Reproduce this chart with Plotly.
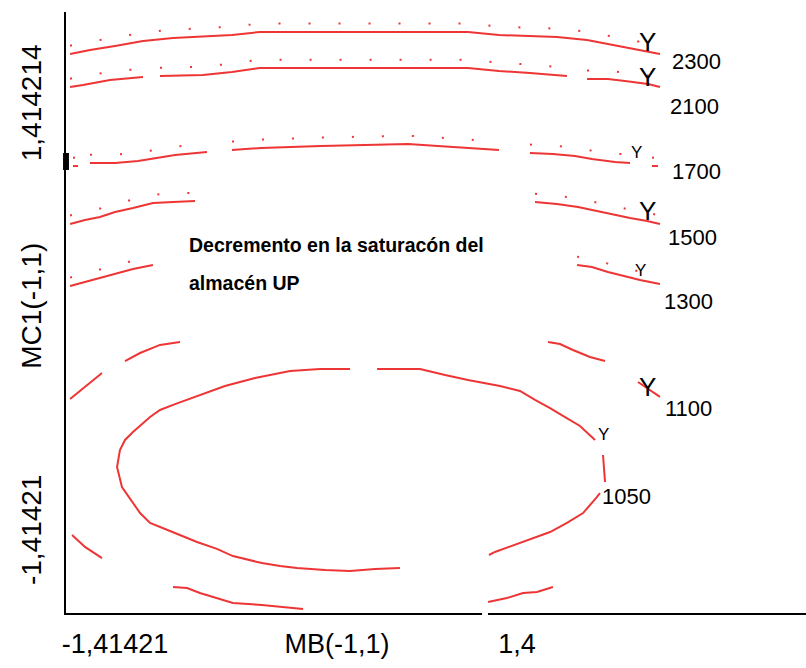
import plotly.graph_objects as go

# ---- contour lines (coded units, gaps marked with None) ----
c2300_x = [-1.739, -1.609, -1.446, -1.264, -1.068, -0.684, -0.502, 0.853, 1.055, 1.433, 1.629, 1.824, 1.974, 2.104]
c2300_y = [1.717, 1.743, 1.770, 1.803, 1.822, 1.842, 1.862, 1.862, 1.842, 1.829, 1.809, 1.770, 1.743, 1.717]

c2100_x = [-1.739, -1.655, -1.479, -1.264, None, -1.153, -0.873, -0.684, -0.502, 0.853, 1.055, 1.257, 1.498, None,
           1.629, 1.765, 1.876, 2.026, 2.104]
c2100_y = [1.500, 1.513, 1.546, 1.566, None, 1.572, 1.579, 1.599, 1.625, 1.625, 1.605, 1.592, 1.572, None,
           1.553, 1.553, 1.539, 1.520, 1.500]

c1700_x = [-1.720, -1.687, None, -1.609, -1.446, -1.296, -1.186, -1.055, -0.847, None,
           -0.684, -0.495, -0.104, 0.463, 0.658, 0.853, 1.055, None,
           1.257, 1.407, 1.550, 1.661, 1.811, 1.909, None, 2.052, 2.091]
c1700_y = [0.980, 0.980, None, 1.000, 1.000, 1.013, 1.033, 1.053, 1.072, None,
           1.086, 1.099, 1.112, 1.125, 1.112, 1.099, 1.086, None,
           1.066, 1.059, 1.046, 1.026, 1.007, 1.000, None, 0.980, 0.980]

c1500_x = [-1.739, -1.642, -1.544, -1.446, -1.329, -1.199, -1.068, -0.925, None,
           1.290, 1.433, 1.570, 1.694, 1.798, 1.909, 2.020, 2.104]
c1500_y = [0.599, 0.625, 0.645, 0.678, 0.704, 0.737, 0.743, 0.750, None,
           0.743, 0.730, 0.711, 0.684, 0.658, 0.638, 0.618, 0.599]

c1300_x = [-1.739, -1.642, -1.544, -1.446, -1.329, -1.199, None, 1.564, 1.661, 1.765, 1.863, 1.974, 2.104]
c1300_y = [0.191, 0.217, 0.243, 0.270, 0.303, 0.329, None, 0.329, 0.316, 0.283, 0.257, 0.230, 0.204]

c1100_x = [-1.739, -1.642, -1.531, None, -1.381, -1.283, -1.153, -1.023, None,
           1.375, 1.453, 1.537, 1.648, 1.746, None, 1.961, 2.104, None,
           -1.726, -1.642, -1.531, None,
           -1.068, -0.977, -0.893, -0.782, -0.678, -0.489, -0.306, -0.221, None,
           0.984, 1.107, 1.212, 1.303, 1.407]
c1100_y = [-0.553, -0.474, -0.382, None, -0.303, -0.250, -0.197, -0.178, None,
           -0.178, -0.191, -0.230, -0.276, -0.303, None, -0.441, -0.539, None,
           -1.447, -1.526, -1.599, None,
           -1.789, -1.796, -1.829, -1.862, -1.895, -1.908, -1.928, -1.934, None,
           -1.888, -1.862, -1.829, -1.822, -1.789]

c1050_x = [0.410, 0.248, 0.085, -0.078, -0.261, -0.371, -0.489, -0.678, -0.782, -0.912, -1.088, -1.218,
           -1.283, -1.329, -1.401, -1.433, -1.414, -1.381, -1.329, -1.218, -1.153, -1.055, -0.925, -0.730,
           -0.534, -0.306, -0.111, 0.085, None,
           0.261, 0.541, 0.704, 0.853, 1.062, 1.192, 1.290, 1.388, 1.472, 1.583, 1.681, None,
           1.733, 1.739, 1.746, None,
           1.713, 1.694, 1.603, 1.498, 1.388, 1.212, 1.107, 1.029, 0.990]
c1050_y = [-1.664, -1.671, -1.684, -1.678, -1.664, -1.651, -1.632, -1.586, -1.539, -1.493, -1.421, -1.368,
           -1.303, -1.237, -1.132, -1.000, -0.888, -0.822, -0.770, -0.671, -0.625, -0.586, -0.539, -0.467,
           -0.414, -0.368, -0.355, -0.355, None,
           -0.355, -0.355, -0.395, -0.428, -0.467, -0.500, -0.559, -0.612, -0.664, -0.730, -0.822, None,
           -0.921, -1.007, -1.099, None,
           -1.171, -1.197, -1.303, -1.368, -1.428, -1.493, -1.533, -1.559, -1.579]

# contour level labels
level_labels = ["2300", "2100", "1700", "1500", "1300", "1100", "1050"]
level_label_x = [2.345, 2.332, 2.345, 2.319, 2.287, 2.293, 1.889]
level_label_y = [1.671, 1.375, 0.941, 0.513, 0.086, -0.612, -1.197]

# "Y" markers near line ends
y_mark_x = [2.026, 2.026, 1.954, 2.026, 1.980, 2.026, 1.739]
y_mark_y = [1.796, 1.566, 1.066, 0.684, 0.296, -0.474, -0.783]
y_mark_big = [True, True, False, True, False, True, False]

# tick labels
x_tick_vals = [-1.446, 0.0, 1.173]
x_tick_text = ["-1,41421", "MB(-1,1)", "1,4"]
y_tick_vals = [1.368, 0.033, -1.441]
y_tick_text = ["1,414214", "MC1(-1,1)", "-1,41421"]

note_lines = ["Decremento en la saturacón del", "almacén UP"]

RED = "#ee3535"

fig = go.Figure()

levels = [
    (c2300_x, c2300_y, True),
    (c2100_x, c2100_y, True),
    (c1700_x, c1700_y, True),
    (c1500_x, c1500_y, True),
    (c1300_x, c1300_y, True),
    (c1100_x, c1100_y, False),
    (c1050_x, c1050_y, False),
]


def shifted(vals, d):
    return [None if v is None else v + d for v in vals]


for xs, ys, dotted in levels:
    fig.add_trace(go.Scatter(x=xs, y=ys, mode="lines", connectgaps=False,
                             line=dict(color=RED, width=2), hoverinfo="skip", showlegend=False))
    if dotted:
        fig.add_trace(go.Scatter(x=xs, y=shifted(ys, 0.055), mode="lines", connectgaps=False,
                                 line=dict(color=RED, width=2, dash="2px,28px"),
                                 hoverinfo="skip", showlegend=False))

annotations = []
for t, x, y in zip(level_labels, level_label_x, level_label_y):
    annotations.append(dict(x=x, y=y, xref="x", yref="y", text=t, showarrow=False,
                            xanchor="center", yanchor="middle",
                            font=dict(family="Liberation Sans, Arial", size=22, color="black")))
for x, y, big in zip(y_mark_x, y_mark_y, y_mark_big):
    annotations.append(dict(x=x, y=y, xref="x", yref="y", text="Y", showarrow=False,
                            xanchor="center", yanchor="middle",
                            font=dict(family="Liberation Sans, Arial", size=26 if big else 17,
                                      color="black")))
note_y = [0.461, 0.211]
for t, y in zip(note_lines, note_y):
    annotations.append(dict(x=-0.977, y=y, xref="x", yref="y", text="<b>" + t + "</b>",
                            showarrow=False, xanchor="left", yanchor="middle",
                            font=dict(family="Liberation Sans, Arial", size=19.5, color="black")))

shapes = [
    # small break in the bottom axis line
    dict(type="rect", xref="x", yref="paper", x0=0.945, x1=0.984, y0=-0.005, y1=0.005,
         fillcolor="white", line=dict(width=0), layer="above"),
    # small thick mark on the left axis
    dict(type="rect", xref="paper", yref="y", x0=-0.004, x1=0.004, y0=0.954, y1=1.066,
         fillcolor="black", line=dict(width=0), layer="above"),
]

fig.update_layout(
    width=806, height=668,
    margin=dict(l=66, r=0, t=12, b=55),
    paper_bgcolor="white", plot_bgcolor="white",
    annotations=annotations,
    shapes=shapes,
    showlegend=False,
)
fig.update_xaxes(range=[-1.7655, 3.0554], showline=True, linecolor="black", linewidth=2,
                 showgrid=False, zeroline=False, ticks="", tickvals=x_tick_vals, ticktext=x_tick_text,
                 tickfont=dict(family="Liberation Sans, Arial", size=27, color="black"),
                 ticklabelstandoff=6)
fig.update_yaxes(range=[-1.9605, 1.9934], showline=True, linecolor="black", linewidth=2,
                 showgrid=False, zeroline=False, ticks="", tickvals=y_tick_vals, ticktext=y_tick_text,
                 tickangle=-90,
                 tickfont=dict(family="Liberation Sans, Arial", size=28, color="black"),
                 ticklabelstandoff=12)

fig.write_html("out.html", config={"displayModeBar": False},
               post_script="document.body.style.margin='0';document.body.style.overflow='hidden';")
